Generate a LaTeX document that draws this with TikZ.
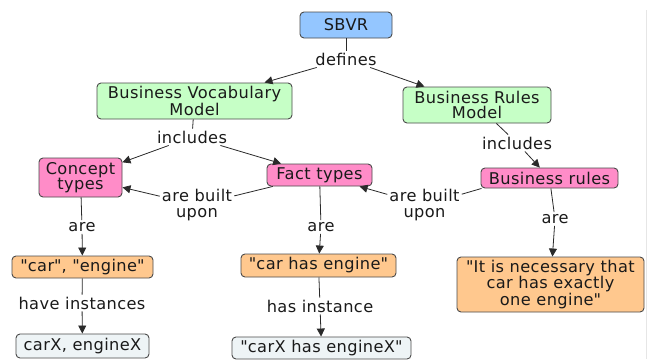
\documentclass[tikz,border=0pt]{standalone}
\usepackage{fontspec}
\setmainfont{DejaVu Sans}[LetterSpace=2.5]
\usetikzlibrary{arrows.meta}

\definecolor{sbvrblue}{HTML}{94C6FF}
\definecolor{modelgreen}{HTML}{C6FFC6}
\definecolor{typepink}{HTML}{FF8CC8}
\definecolor{exorange}{HTML}{FFC88E}
\definecolor{instpale}{HTML}{EEF4F6}
\definecolor{boxline}{HTML}{4A4A4A}
\definecolor{linkcol}{HTML}{2A2A2A}
\definecolor{textcol}{HTML}{1A1A1A}
\definecolor{edgegray}{HTML}{E6E6E6}

\newcommand{\diagfont}{\fontsize{16.2}{15.5}\selectfont}
% straight double quote, set as a glyph so the TeX mapping keeps it straight
\newcommand{\dq}{\XeTeXglyph\XeTeXcharglyph"22\relax}

\tikzset{
  box/.style={draw=boxline, line width=0.9pt, rounded corners=4pt,
    inner sep=0pt, align=center, font=\diagfont, text=textcol},
  lbl/.style={inner sep=2pt, align=center, font=\diagfont, text=textcol},
  link/.style={draw=linkcol, line width=0.8pt},
  arr/.style={link, -{Triangle[length=8pt,width=8pt]}},
}

\begin{document}
\begin{tikzpicture}[x=1pt,y=-1pt]
\useasboundingbox (0,0) rectangle (648,359);
\fill[white] (0,0) rectangle (648,359);
\draw[edgegray, line width=0.8pt] (646,10) -- (646,359);

% concept boxes
\node[box, fill=sbvrblue, minimum width=92pt, minimum height=26pt] (sbvr) at (346,25) {SBVR};
\node[box, fill=modelgreen, minimum width=195pt, minimum height=36pt] (bvm) at (194.5,101) {Business Vocabulary\\Model};
\node[box, fill=modelgreen, minimum width=148pt, minimum height=36pt] (brm) at (477,105) {Business Rules\\Model};
\node[box, fill=typepink, minimum width=83pt, minimum height=39pt] (concept) at (80.5,177.5) {Concept\\types};
\node[box, fill=typepink, minimum width=105pt, minimum height=22pt] (fact) at (319.5,175) {Fact types};
\node[box, fill=typepink, minimum width=137pt, minimum height=20pt] (rules) at (549.5,178) {Business rules};
\node[box, fill=exorange, minimum width=141pt, minimum height=22pt] (careng) at (82.5,267) {\dq car\dq, \dq engine\dq};
\node[box, fill=exorange, minimum width=155pt, minimum height=23pt] (carhas) at (318.5,265.5) {\dq car has engine\dq};
\node[box, fill=exorange, minimum width=187pt, minimum height=55pt] (rulebox) at (550.5,284.5) {\dq It is necessary that\\car has exactly\\one engine\dq};
\node[box, fill=instpale, minimum width=133pt, minimum height=24pt] (carx) at (82.5,346) {carX, engineX};
\node[box, fill=instpale, minimum width=179pt, minimum height=22pt] (carxhas) at (321.5,348) {\dq carX has engineX\dq};

% link labels
\node[lbl] (defines) at (346,59) {defines};
\node[lbl] (incl) at (192,137) {includes};
\node[lbl] (incr) at (517,143) {includes};
\node[lbl] (builtl) at (197,205) {are built\\upon};
\node[lbl] (builtr) at (424.5,205) {are built\\upon};
\node[lbl] (arel) at (82,227) {are};
\node[lbl] (arem) at (321,227) {are};
\node[lbl] (arer) at (555,219) {are};
\node[lbl] (haveinst) at (82,303) {have instances};
\node[lbl] (hasinst) at (320,306) {has instance};

% links
\draw[link] (sbvr) -- (defines);
\draw[arr] (defines) -- ([xshift=70pt]bvm.north);
\draw[arr] (defines) -- (brm);
\draw[link] (bvm) -- (incl);
\draw[arr] (incl) -- (concept);
\draw[arr] (incl) -- (fact);
\draw[link] (brm) -- (incr);
\draw[arr] (incr) -- (rules);
\draw[link] (fact) -- (builtl);
\draw[arr] (builtl) -- (concept);
\draw[link] ([xshift=1pt]rules.south west) -- (builtr);
\draw[arr] (builtr) -- (fact);
\draw[link] (concept) -- (arel);
\draw[arr] (arel) -- (careng);
\draw[link] (careng) -- (haveinst);
\draw[arr] (haveinst) -- (carx);
\draw[link] (fact) -- (arem);
\draw[arr] (arem) -- (carhas);
\draw[link] (carhas) -- (hasinst);
\draw[arr] (hasinst) -- (carxhas);
\draw[link] (rules) -- (arer);
\draw[arr] (arer) -- (rulebox);
\end{tikzpicture}
\end{document}
